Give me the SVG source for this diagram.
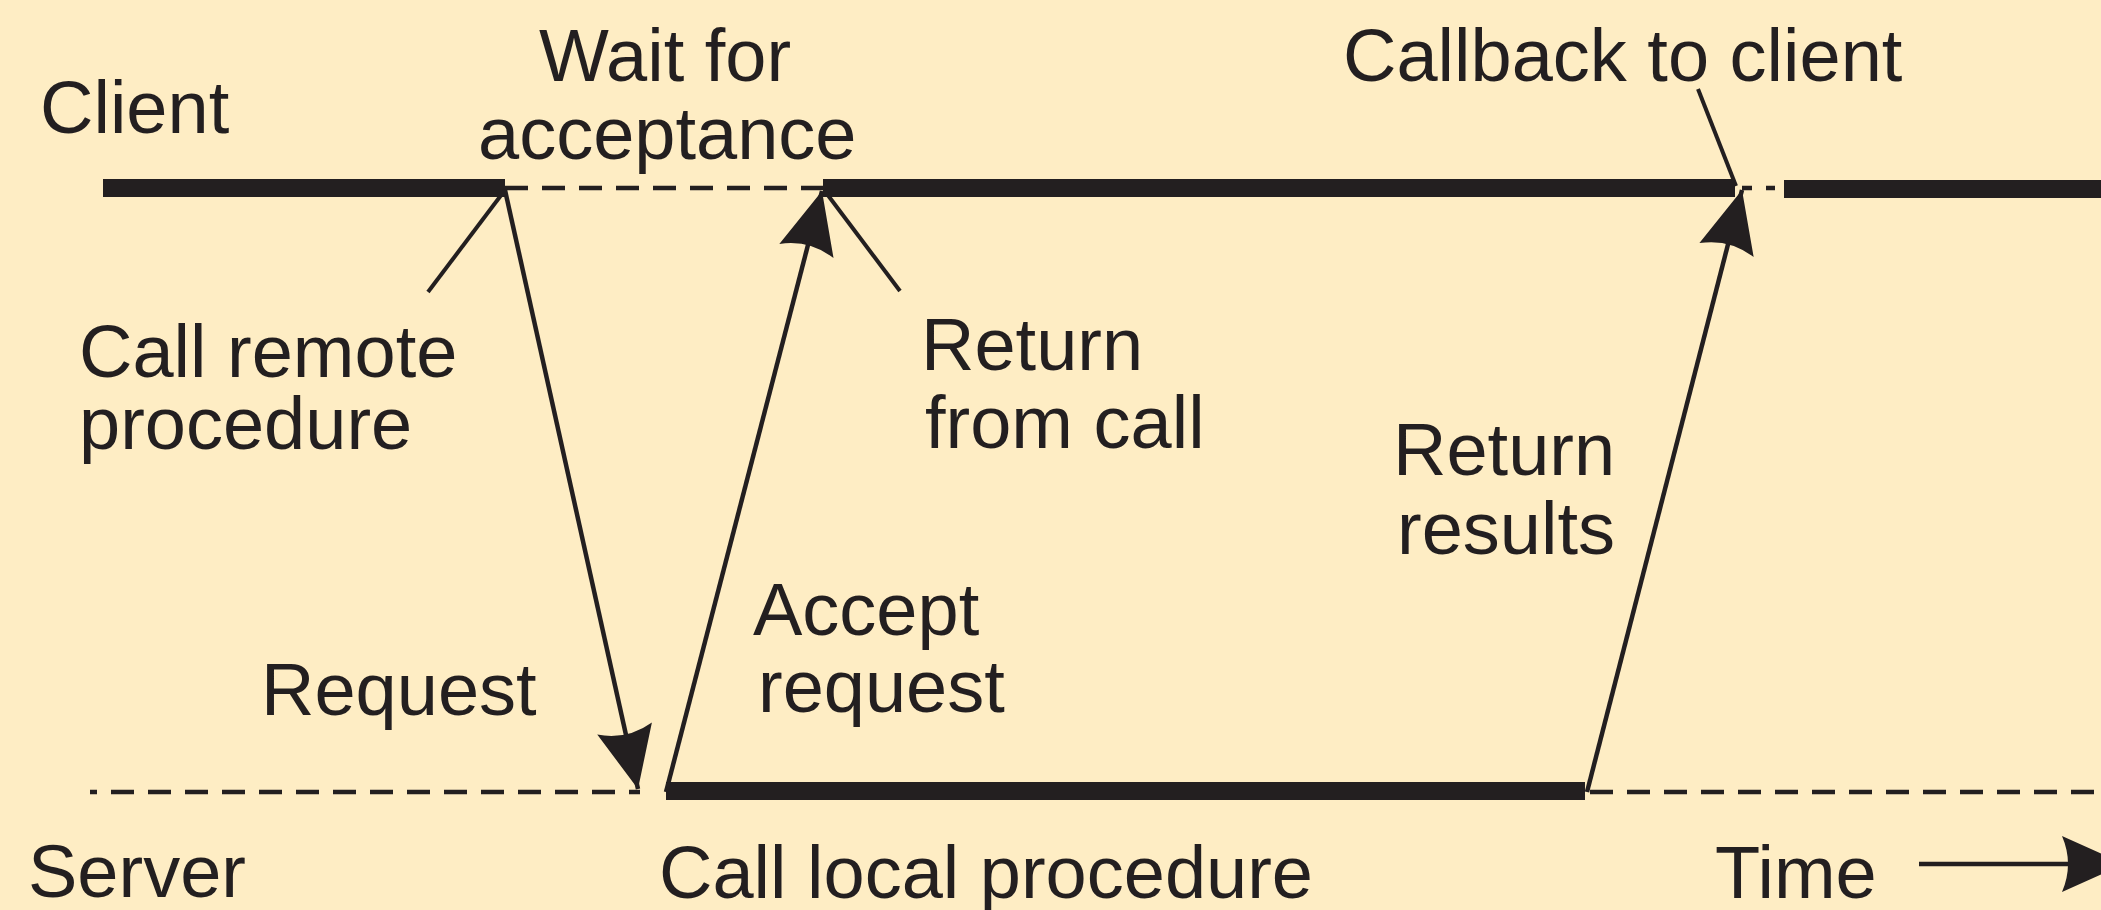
<svg xmlns="http://www.w3.org/2000/svg" width="2101" height="910" viewBox="0 0 2101 910">
  <style>
    .lbl { font-family: "Liberation Sans", Arial, Helvetica, sans-serif; font-size: 74px; fill: #231f20; }
    .bar { stroke: #231f20; stroke-width: 18; fill: none; }
    .wait { stroke: #231f20; stroke-width: 4.5; fill: none; stroke-dasharray: 23 14; }
    .msg { stroke: #231f20; stroke-width: 4.5; fill: none; }
    .lead { stroke: #231f20; stroke-width: 4; fill: none; }
  </style>
  <defs>
    <marker id="head" viewBox="-66 -30 68 60" refX="0" refY="0" markerWidth="68" markerHeight="60" markerUnits="userSpaceOnUse" orient="auto">
      <path d="M0,0 L-62,-28 Q-50,0 -62,28 Z" fill="#231f20"/>
    </marker>
  </defs>

  <rect x="0" y="0" width="2101" height="910" fill="#feedc4"/>

  <!-- client timeline -->
  <g id="client-line">
    <line class="bar" x1="103" y1="188" x2="505" y2="188"/>
    <line class="wait" x1="505" y1="188" x2="823" y2="188"/>
    <line class="bar" x1="823" y1="188" x2="1735" y2="188"/>
    <line class="msg" x1="1742" y1="188" x2="1752" y2="188"/>
    <line class="msg" x1="1766" y1="188" x2="1775" y2="188"/>
    <line class="bar" x1="1784" y1="189" x2="2101" y2="189"/>
  </g>

  <!-- server timeline -->
  <g id="server-line">
    <line class="wait" x1="90" y1="792" x2="640" y2="792" stroke-dashoffset="16"/>
    <line class="bar" x1="666" y1="791" x2="1585" y2="791"/>
    <line class="wait" x1="1590" y1="792" x2="2101" y2="792"/>
  </g>

  <!-- messages and leader lines -->
  <g id="connectors">
    <line class="msg" x1="505" y1="190" x2="638" y2="789" marker-end="url(#head)"/>
    <line class="msg" x1="666" y1="792" x2="822" y2="191" marker-end="url(#head)"/>
    <line class="msg" x1="1587" y1="792" x2="1742" y2="190" marker-end="url(#head)"/>
    <line class="lead" x1="505" y1="190" x2="428" y2="292"/>
    <line class="lead" x1="824" y1="190" x2="900" y2="291"/>
    <line class="lead" x1="1736" y1="186" x2="1698" y2="89"/>
    <line class="msg" x1="1919" y1="864" x2="2124" y2="864" marker-end="url(#head)"/>
  </g>

  <!-- labels -->
  <g id="labels">
    <text class="lbl" x="40" y="133">Client</text>
    <text class="lbl" x="539" y="81">Wait for</text>
    <text class="lbl" x="478" y="159">acceptance</text>
    <text class="lbl" x="79" y="377">Call remote</text>
    <text class="lbl" x="79" y="449">procedure</text>
    <text class="lbl" x="1343" y="81">Callback to client</text>
    <text class="lbl" x="921" y="370">Return</text>
    <text class="lbl" x="925" y="448">from call</text>
    <text class="lbl" x="1393" y="475">Return</text>
    <text class="lbl" x="1397" y="554">results</text>
    <text class="lbl" x="753" y="635">Accept</text>
    <text class="lbl" x="758" y="712">request</text>
    <text class="lbl" x="261" y="715">Request</text>
    <text class="lbl" x="28" y="897">Server</text>
    <text class="lbl" x="659" y="898">Call local procedure</text>
    <text class="lbl" x="1715" y="898">Time</text>
  </g>
</svg>
